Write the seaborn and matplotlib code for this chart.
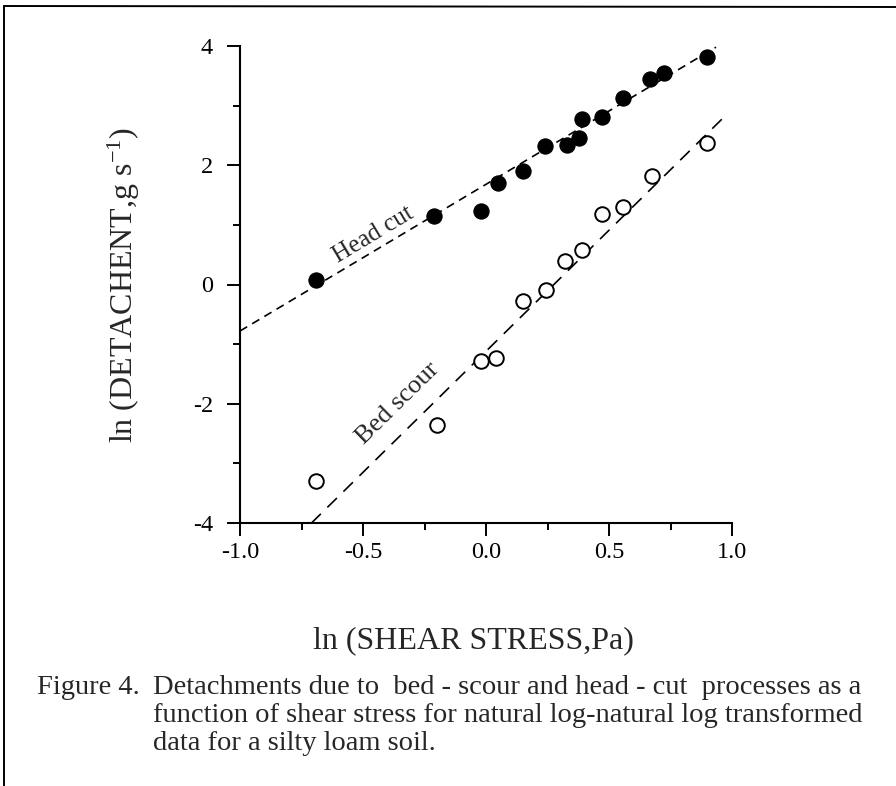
import numpy as np
import pandas as pd
import matplotlib.pyplot as plt
from matplotlib.lines import Line2D
from matplotlib.ticker import FixedLocator, MultipleLocator
import seaborn as sns

# ln(shear stress, Pa) vs ln(detachment, g/s)
head_x = [-0.69, -0.21, -0.02, 0.05, 0.15, 0.24, 0.33, 0.38, 0.39, 0.47, 0.555, 0.665, 0.725, 0.90]
head_y = [0.07, 1.15, 1.23, 1.70, 1.90, 2.33, 2.34, 2.46, 2.78, 2.81, 3.12, 3.45, 3.55, 3.82]
bed_x = [-0.69, -0.20, -0.02, 0.04, 0.15, 0.245, 0.32, 0.39, 0.47, 0.555, 0.675, 0.90]
bed_y = [-3.30, -2.35, -1.29, -1.23, -0.27, -0.10, 0.40, 0.58, 1.18, 1.30, 1.82, 2.38]

# fitted lines: slope, intercept, x range
head_fit = [2.46, 1.68]
head_fit_range = [-1.0, 0.935]
bed_fit = [4.06, -1.12]
bed_fit_range = [-0.71, 0.975]

x_ticks = [-1.0, -0.5, 0.0, 0.5, 1.0]
x_tick_labels = ["-1.0", "-0.5", "0.0", "0.5", "1.0"]
y_ticks = [-4, -2, 0, 2, 4]
y_tick_labels = ["-4", "-2", "0", "2", "4"]

caption_head = "Figure 4."
caption_lines = [
    "Detachments due to  bed - scour and head - cut  processes as a",
    "function of shear stress for natural log-natural log transformed",
    "data for a silty loam soil.",
]

sns.set_style("ticks")
plt.rcParams['font.family'] = ['Liberation Serif', 'DejaVu Serif']
plt.rcParams['mathtext.default'] = 'regular'
plt.rcParams['axes.unicode_minus'] = False

W, H = 896, 786
fig = plt.figure(figsize=(W / 100, H / 100), dpi=100)
ax = fig.add_axes([240 / W, 1 - 523 / H, 492 / W, 477 / H])

# fitted lines
for fit, rng, dash in [(head_fit, head_fit_range, (5, 3.5)), (bed_fit, bed_fit_range, (8, 5.5))]:
    xs = np.array(rng)
    line_df = pd.DataFrame({'x': xs, 'y': fit[1] + fit[0] * xs})
    sns.lineplot(data=line_df, x='x', y='y', ax=ax, color='black', lw=1.2,
                 dashes=False, estimator=None, sort=False)
    ax.lines[-1].set_dashes(dash)

head_df = pd.DataFrame({'x': head_x, 'y': head_y})
bed_df = pd.DataFrame({'x': bed_x, 'y': bed_y})
sns.scatterplot(data=head_df, x='x', y='y', ax=ax, s=120, color='black',
                edgecolor='black', linewidth=0.8, zorder=3, clip_on=False)
sns.scatterplot(data=bed_df, x='x', y='y', ax=ax, s=110, facecolor='white',
                edgecolor='black', linewidth=1.4, zorder=3, clip_on=False)

ax.set_xlim(-1.0, 1.0)
ax.set_ylim(-4, 4)
ax.xaxis.set_major_locator(FixedLocator(x_ticks))
ax.set_xticklabels(x_tick_labels)
ax.xaxis.set_minor_locator(MultipleLocator(0.25))
ax.yaxis.set_major_locator(FixedLocator(y_ticks))
ax.set_yticklabels(y_tick_labels)
ax.yaxis.set_minor_locator(MultipleLocator(1))
ax.tick_params(which='major', direction='out', length=9.5, width=1.4, labelsize=17.5,
               color='black', labelcolor='black', pad=4)
ax.tick_params(axis='y', which='major', pad=10)
ax.tick_params(which='minor', direction='out', length=5, width=1.4, color='black')

sns.despine(ax=ax)
for side in ['left', 'bottom']:
    ax.spines[side].set_linewidth(1.5)
    ax.spines[side].set_color('black')

ax.set_xlabel("ln (SHEAR STRESS,Pa)", fontsize=23)
ax.xaxis.set_label_coords((473 - 240) / 492, -(641 - 523) / 477)
ax.xaxis.label.set_va('center')
ax.set_ylabel(r"ln (DETACHENT,g s$^{-1}$)", fontsize=23)
ax.yaxis.set_label_coords((124 - 240) / 492, 0.5)
ax.yaxis.label.set_va('center')

ax.text(-0.46, 0.84, "Head cut", fontsize=18, rotation=31, ha='center', va='center',
        rotation_mode='anchor')
ax.text(-0.36, -1.99, "Bed scour", fontsize=19, rotation=44.5, ha='center', va='center',
        rotation_mode='anchor')

# caption
fig.text(37 / W, 1 - 694 / H, caption_head, fontsize=20.5, va='baseline', ha='left')
for i, line in enumerate(caption_lines):
    fig.text(153 / W, 1 - (694 + 28 * i) / H, line, fontsize=20.5, va='baseline', ha='left')

# scanned page frame
fig.add_artist(Line2D([4 / W, 4 / W], [0, 1 - 6 / H], color='black', lw=1.4))
fig.add_artist(Line2D([4 / W, 1], [1 - 6 / H, 1 - 7 / H], color='black', lw=1.4))

fig.savefig("out.png", dpi=100)
